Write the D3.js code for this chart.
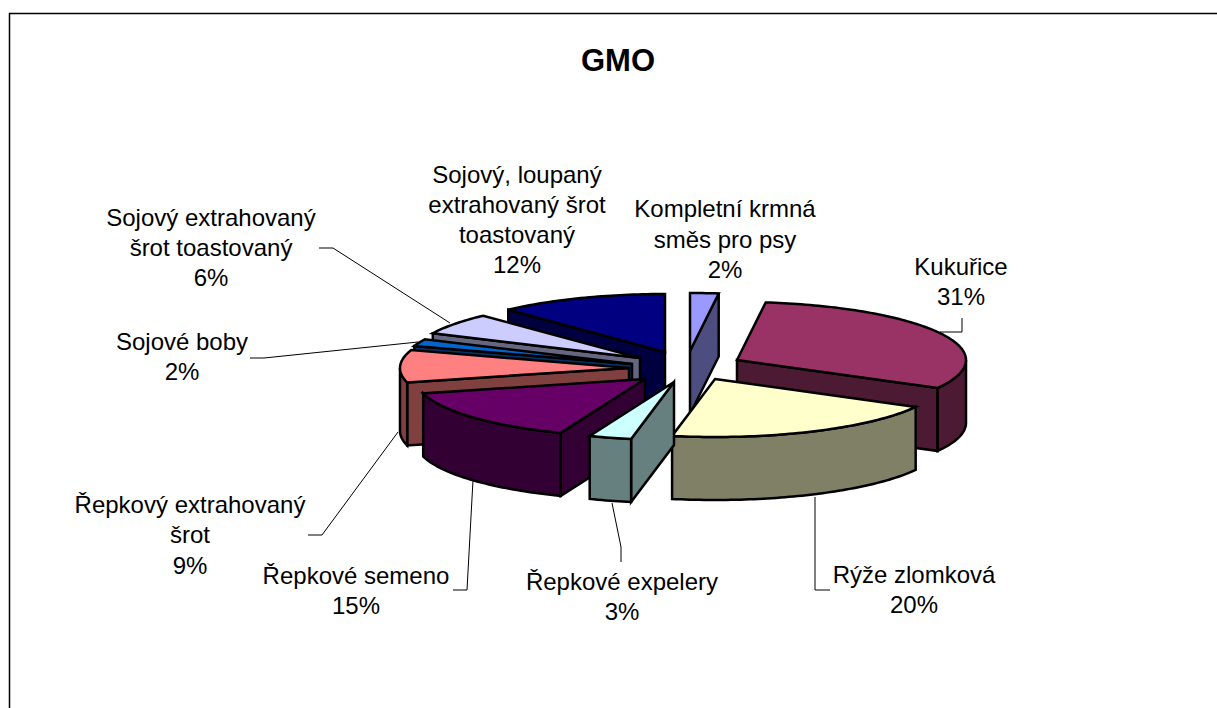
<!DOCTYPE html>
<html>
<head>
<meta charset="utf-8">
<script src="https://cdn.jsdelivr.net/npm/d3@7/dist/d3.min.js"></script>
<style>
html,body{margin:0;padding:0;background:#fff;overflow:hidden}
text{font-family:"Liberation Sans",Arial,sans-serif;fill:#000}
</style>
</head>
<body>
<script>
const title = "GMO";
const categories = ["Kompletní krmná směs pro psy","Kukuřice","Rýže zlomková","Řepkové expelery","Řepkové semeno","Řepkový extrahovaný šrot","Sojové boby","Sojový extrahovaný šrot toastovaný","Sojový, loupaný extrahovaný šrot toastovaný"];
const values = [2,31,20,3,15,9,2,6,12];
const labelLines = [["Kompletní krmná","směs pro psy"],["Kukuřice"],["Rýže zlomková"],["Řepkové expelery"],["Řepkové semeno"],["Řepkový extrahovaný","šrot"],["Sojové boby"],["Sojový extrahovaný","šrot toastovaný"],["Sojový, loupaný","extrahovaný šrot","toastovaný"]];
const topColors = ["#9999FF","#993366","#FFFFCC","#CCFFFF","#660066","#FF8080","#0066CC","#CCCCFF","#000080"];
const sideColors = ["#4D4D80","#4D1A33","#808066","#668080","#330033","#804040","#003366","#666680","#000040"];

// layout
const W=1217,H=708, cx=665, cy=352, rx=229, ry=58, depth=63;
const explodeX=[25,72,50,9,-20,-36,-33,-25,0];
const explodeY=[-1,8,27,30,27,16,12,6,0];
const paintOrder=[8,7,6,5,4,0,1,2,3];
const labelX=[725,961,914,622,356,190,182,211,517];
const labelY=[217,275,583,590,584,512.5,350,226,183];
const lineGap=[30.5,30,30,30,30,30.5,30,30,30];
const leaders=[null,[[940,332],[962,332],[962,318]],[[815,497],[815,590],[830,590]],[[612,503],[621,547],[621,562]],[[473,480],[467,590],[453,590]],[[398,432],[322,535],[308,535]],[[418,342],[264,358],[250,358]],[[450,323],[333,248],[319,248]],null];

const svg=d3.select("body").append("svg").attr("width",W).attr("height",H).style("display","block");
svg.append("rect").attr("width",W).attr("height",H).attr("fill","#fff");
const frame=d3.line();
svg.append("path").attr("d",frame([[9.5,H],[9.5,13.5],[W,13.5]])).attr("fill","none").attr("stroke","#000").attr("stroke-width",1.5);

svg.append("text").attr("x",618).attr("y",70.5).attr("text-anchor","middle").attr("font-size",31).attr("font-weight","bold").text(title);

const arcs=d3.pie().sort(null).startAngle(0).endAngle(2*Math.PI)(values);
const sx=d3.scaleLinear().domain([-1,1]).range([-rx,rx]);
const sy=d3.scaleLinear().domain([-1,1]).range([ry,-ry]);
const line=d3.line();
const rim=(ax,ay,a,dz=0)=>[ax+sx(Math.sin(a)),ay+sy(Math.cos(a))+dz];
const arcPts=(ax,ay,a0,a1,dz=0)=>{
  const n=Math.max(2,Math.ceil((a1-a0)/0.02));
  return d3.range(n+1).map(i=>rim(ax,ay,a0+(a1-a0)*i/n,dz));
};

const g=svg.append("g");
const faceStyle=(sel,fill)=>sel.attr("fill",fill).attr("stroke","#000").attr("stroke-width",2.5).attr("stroke-linejoin","miter");

paintOrder.forEach(i=>{
  const d=arcs[i], a0=d.startAngle, a1=d.endAngle;
  const ax=cx+explodeX[i], ay=cy+explodeY[i];
  const slice=g.append("g").attr("class","slice");
  const cut=a=>{
    const p=rim(ax,ay,a);
    faceStyle(slice.append("path").attr("d",line([[ax,ay],p,[p[0],p[1]+depth],[ax,ay+depth]])+"Z"),sideColors[i]);
  };
  if(Math.sin(a0)<-1e-6) cut(a0);
  if(Math.sin(a1)>1e-6) cut(a1);
  const w0=Math.max(a0,Math.PI/2), w1=Math.min(a1,3*Math.PI/2);
  if(w1>w0){
    const pts=arcPts(ax,ay,w0,w1).concat(arcPts(ax,ay,w0,w1,depth).reverse());
    faceStyle(slice.append("path").attr("d",line(pts)+"Z"),sideColors[i]);
  }
  faceStyle(slice.append("path").attr("d",line([[ax,ay]].concat(arcPts(ax,ay,a0,a1)))+"Z"),topColors[i]);
});

leaders.forEach(l=>{ if(l) svg.append("path").attr("d",line(l)).attr("fill","none").attr("stroke","#000").attr("stroke-width",1); });

labelLines.forEach((lines,i)=>{
  const t=svg.append("text").attr("text-anchor","middle").attr("font-size",24);
  lines.concat([values[i]+"%"]).forEach((s,j)=>{
    t.append("tspan").attr("x",labelX[i]).attr("y",labelY[i]+j*lineGap[i]).text(s);
  });
});
</script>
</body>
</html>
